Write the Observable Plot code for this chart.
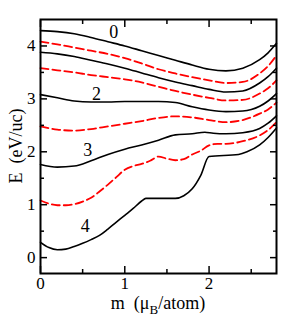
<!DOCTYPE html>
<html><head><meta charset="utf-8">
<script src="https://cdn.jsdelivr.net/npm/d3@7"></script>
<script src="https://cdn.jsdelivr.net/npm/@observablehq/plot@0.6"></script>
<style>body{margin:0;background:#fff} svg{display:block}</style>
</head><body><div id="chart"></div>
<script>
// shared m grid for the smooth upper bands
const mGrid = [0,0.2,0.4,0.6,0.8,1.0,1.2,1.4,1.6,1.8,2.0,2.2,2.4,2.6,2.7,2.8];
const band0 = [4.29,4.27,4.23,4.16,4.08,4.0,3.91,3.82,3.73,3.64,3.56,3.53,3.58,3.74,3.87,4.05];
const bandA = [4.08,4.03,3.97,3.91,3.85,3.77,3.67,3.56,3.48,3.41,3.35,3.3,3.32,3.48,3.62,3.82];
const bandB = [3.88,3.85,3.8,3.73,3.66,3.58,3.49,3.4,3.32,3.25,3.18,3.13,3.15,3.3,3.42,3.58];
const bandC = [3.58,3.54,3.5,3.45,3.41,3.37,3.31,3.23,3.15,3.08,3.02,2.97,2.98,3.1,3.2,3.35];
const bandD = [3.08,3.02,2.96,2.94,2.94,2.95,2.95,2.95,2.93,2.85,2.79,2.76,2.77,2.86,2.96,3.1];
const bandE = [2.48,2.42,2.4,2.43,2.48,2.53,2.58,2.64,2.67,2.65,2.6,2.56,2.6,2.72,2.8,2.93];
// lower bands with their own m grids
const mF = [0,0.2,0.4,0.6,0.8,1.0,1.2,1.4,1.6,1.8,1.95,2.05,2.2,2.4,2.6,2.7,2.8];
const bandF = [1.76,1.71,1.73,1.83,1.95,2.05,2.13,2.22,2.32,2.34,2.37,2.35,2.34,2.36,2.44,2.54,2.68];
const mG = [0,0.1,0.2,0.3,0.4,0.5,0.6,0.7,0.8,0.9,1.0,1.1,1.2,1.3,1.4,1.5,1.6,1.7,1.8,1.9,2.0,2.1,2.2,2.4,2.6,2.7,2.8];
const bandG = [1.08,1.02,0.99,0.99,1.01,1.06,1.13,1.25,1.38,1.52,1.66,1.73,1.77,1.83,1.91,1.87,1.84,1.86,1.95,2.02,2.12,2.15,2.15,2.2,2.31,2.41,2.56];
const mH = [0,0.1,0.2,0.3,0.4,0.5,0.6,0.7,0.8,0.9,1.0,1.1,1.2,1.25,1.6,1.7,1.8,1.9,2.0,2.35,2.45,2.6,2.7,2.8];
const bandH = [0.29,0.19,0.15,0.16,0.21,0.27,0.34,0.42,0.54,0.67,0.8,0.93,1.07,1.12,1.12,1.17,1.3,1.55,1.91,1.95,2.0,2.13,2.27,2.45];

// curve labels
const labelText = ["0","2","3","4"];
const labelM = [0.87,0.665,0.56,0.53];
const labelE = [4.25,3.08,2.02,0.59];

// ticks
const xMajor = [0,1,2];
const xMinor = [0.5,1.5,2.5];
const yMajor = [0,1,2,3,4];
const yMinor = [0.5,1.5,2.5,3.5];

const solid = [[mGrid,band0],[mGrid,bandB],[mGrid,bandD],[mF,bandF],[mH,bandH]];
const dashed = [[mGrid,bandA],[mGrid,bandC],[mGrid,bandE],[mG,bandG]];
const rows = (list) => list.flatMap(([ms, es], k) => ms.map((m, i) => ({m, E: es[i], s: k})));
const solidRows = rows(solid);
const dashedRows = rows(dashed);
const labels = labelText.map((t, i) => ({t, m: labelM[i], E: labelE[i]}));

const W = 291, H = 321, mL = 40, mR = 15, mT = 19, mB = 48;
const FONT = "Liberation Serif";
const intFmt = d3.format("d");
const blank = () => "";

const chart = Plot.plot({
  width: W, height: H,
  marginLeft: mL, marginRight: mR, marginTop: mT, marginBottom: mB,
  style: {fontFamily: FONT, fontSize: "17px", background: "#fff", color: "#000"},
  x: {domain: [0, 2.8]},
  y: {domain: [-0.3, 4.5]},
  marks: [
    Plot.line(solidRows, {x: "m", y: "E", z: "s", stroke: "#000", strokeWidth: 1.6, curve: "monotone-x"}),
    Plot.line(dashedRows, {x: "m", y: "E", z: "s", stroke: "#ff0000", strokeWidth: 1.8, strokeDasharray: "8,4", curve: "monotone-x"}),
    Plot.text(labels, {x: "m", y: "E", text: "t", fontSize: 18, fill: "#000"}),
    // inward ticks on all four sides
    Plot.axisX(xMajor, {anchor: "bottom", tickSize: -7, tickFormat: blank, label: null, strokeWidth: 1.5}),
    Plot.axisX(xMinor, {anchor: "bottom", tickSize: -4, tickFormat: blank, label: null, strokeWidth: 1.5}),
    Plot.axisX(xMajor, {anchor: "top", tickSize: -7, tickFormat: blank, label: null, strokeWidth: 1.5}),
    Plot.axisX(xMinor, {anchor: "top", tickSize: -4, tickFormat: blank, label: null, strokeWidth: 1.5}),
    Plot.axisY(yMajor, {anchor: "left", tickSize: -7, tickFormat: blank, label: null, strokeWidth: 1.5}),
    Plot.axisY(yMinor, {anchor: "left", tickSize: -4, tickFormat: blank, label: null, strokeWidth: 1.5}),
    Plot.axisY(yMajor, {anchor: "right", tickSize: -7, tickFormat: blank, label: null, strokeWidth: 1.5}),
    Plot.axisY(yMinor, {anchor: "right", tickSize: -4, tickFormat: blank, label: null, strokeWidth: 1.5}),
    // tick labels
    Plot.axisX(xMajor, {anchor: "bottom", tickSize: 0, tickPadding: 3, tickFormat: intFmt, label: null, fontSize: 17}),
    Plot.axisY(yMajor, {anchor: "left", tickSize: 0, tickPadding: 5, tickFormat: intFmt, label: null, fontSize: 17}),
    Plot.frame({stroke: "#000", strokeWidth: 2})
  ]
});
document.getElementById("chart").appendChild(chart);

// axis titles
const svg = d3.select(chart);
const cx = mL + (W - mL - mR) / 2;
const cy = mT + (H - mT - mB) / 2;
const xt = svg.append("text")
  .attr("x", cx).attr("y", H - 12)
  .attr("text-anchor", "middle")
  .style("font-family", FONT).style("font-size", "18px").style("white-space", "pre")
  .attr("fill", "#000");
xt.append("tspan").text("m  (\u03BC");
xt.append("tspan").text("B").attr("dy", 5).style("font-size", "13px");
xt.append("tspan").text("/atom)").attr("dy", -5);

svg.append("text")
  .attr("transform", `translate(22,${cy}) rotate(-90)`)
  .attr("text-anchor", "middle")
  .style("font-family", FONT).style("font-size", "18px").style("white-space", "pre")
  .attr("fill", "#000")
  .text("E  (eV/uc)");
</script>
</body></html>
